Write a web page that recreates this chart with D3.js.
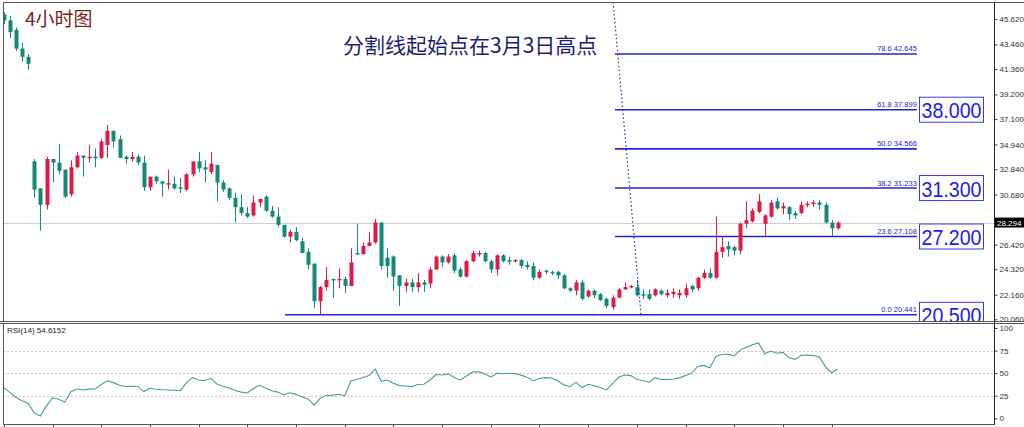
<!DOCTYPE html>
<html>
<head>
<meta charset="utf-8">
<script src="https://cdn.jsdelivr.net/npm/d3@7"></script>
<style>
  body { margin: 0; background: #fff; }
  svg { display: block; }
</style>
</head>
<body>
<div id="chart"></div>
<script>
// 4h candles (oldest first)
var opens = [46.0,45.5,44.7,43.1,42.4, 33.5,31.2,29.8,33.7,33.4, 32.8,30.7,33.0,34.0,33.8, 33.9,33.8,34.9,36.1,35.4,
  33.9,33.7,33.9,33.4,31.3, 32.2,31.8,31.6,31.6,31.3, 31.1,32.4,33.5,33.0,32.6, 33.2,31.7,31.2,30.4,29.6,
  29.1,28.9,30.0,30.5,29.3, 28.8,28.1,27.1,27.5,26.7, 25.8,24.8,21.6,22.8,23.5, 23.4,23.5,22.9,25.7,25.6,
  26.3,26.6,28.3,25.3,25.4, 23.8,22.9,23.2,22.8,23.2, 23.1,24.3,25.4,24.9,25.5, 24.3,23.7,25.0,25.6,25.7,
  25.0,24.3,25.5,25.1,25.0, 25.1,24.7,24.6,23.6,24.2, 24.1,24.1,23.8,22.7,22.5, 23.2,22.0,22.5,22.2,21.8,
  21.1,21.9,22.6,22.8,22.8, 22.2,22.2,22.1,22.5,22.1, 22.2,22.1,22.1,22.9,22.7, 23.6,24.0,23.6,25.8,26.3,
  26.2,25.9,28.2,28.4,29.2, 28.2,28.8,30.1,29.5,29.6, 29.1,29.1,29.8,29.9,30.0, 29.8,28.3,27.8];
var highs = [46.2,45.9,44.9,43.6,42.6, 33.7,31.2,33.9,33.7,35.0, 32.8,33.6,34.3,34.0,34.9, 34.6,35.4,36.6,36.1,35.7,
  34.0,34.3,34.1,34.0,32.2, 32.3,31.8,32.8,32.2,32.1, 32.5,33.5,34.3,33.6,34.3, 33.2,31.9,31.3,30.8,30.7,
  29.6,30.6,30.3,30.6,29.7, 29.6,28.1,27.7,27.9,27.0, 26.1,24.8,22.9,24.5,23.5, 24.4,23.7,26.1,28.2,26.6,
  27.5,28.6,28.3,26.1,25.5, 23.8,23.5,23.5,24.0,23.4, 24.5,25.5,25.5,25.6,25.7, 24.5,25.1,25.9,25.9,25.8,
  25.1,25.6,25.6,25.4,25.2, 25.2,25.0,24.9,24.3,24.3, 24.2,24.2,23.9,22.8,23.4, 23.4,22.6,22.6,22.3,21.9,
  22.1,22.7,23.2,23.0,23.4, 22.6,22.6,22.7,22.6,22.6, 22.7,22.6,23.1,23.0,23.7, 24.3,24.4,28.8,27.1,26.7,
  26.3,28.3,30.1,29.5,30.7, 29.0,30.2,30.4,30.0,29.7, 29.3,30.1,30.1,30.2,30.2, 30.0,28.5,28.4];
var lows = [45.2,44.0,42.9,42.0,41.3, 30.4,27.6,29.4,31.7,32.4, 30.4,30.5,32.9,32.2,33.4, 33.0,33.7,33.8,34.7,33.8,
  33.3,33.5,33.2,31.0,31.0, 31.6,30.5,31.1,31.1,30.8, 31.0,32.2,32.6,31.7,32.4, 30.1,30.9,30.2,28.3,28.9,
  28.7,28.8,29.6,29.2,28.7, 27.9,27.0,26.6,26.7,25.7, 24.3,21.0,20.44,22.5,21.9, 22.7,22.3,22.9,25.6,25.6,
  26.3,26.5,24.3,23.6,22.5, 21.2,22.4,22.4,22.4,22.4, 22.7,24.3,24.5,24.8,24.0, 23.6,23.6,24.9,25.4,24.9,
  24.0,23.8,24.9,24.7,24.9, 24.4,24.3,23.4,23.5,23.9, 23.8,23.5,22.6,22.4,22.1, 21.7,21.9,21.9,21.6,21.0,
  20.9,21.9,22.6,22.7,22.0, 21.8,21.7,22.0,22.1,21.9, 21.9,21.8,21.9,22.4,22.5, 23.5,23.5,23.5,25.3,25.4,
  25.5,25.6,27.8,28.3,29.1, 27.1,28.7,29.4,29.0,28.5, 28.6,29.0,29.6,29.6,29.4, 28.2,27.1,27.7];
var closes = [45.5,44.5,43.1,42.4,41.8, 31.1,29.8,33.7,33.4,32.7, 30.5,33.0,34.0,33.8,33.9, 33.8,35.2,36.1,35.2,33.8,
  33.7,33.9,33.4,31.3,32.2, 31.8,31.6,31.65,31.2,31.2, 32.4,33.5,32.9,32.8,33.3, 31.7,31.1,30.4,29.6,29.1,
  28.8,30.0,30.3,29.3,28.8, 28.1,27.1,27.5,26.8,25.7, 24.7,21.6,22.8,23.4,23.4, 23.5,22.9,24.9,25.6,26.3,
  26.6,28.3,24.6,24.6,23.7, 22.9,23.2,22.8,23.2,23.0, 24.3,25.4,24.9,25.4,24.2, 23.7,25.0,25.7,25.7,25.0,
  24.3,25.5,25.0,25.0,25.1, 24.6,24.5,23.6,24.1,24.1, 24.0,23.8,22.7,22.5,23.2, 21.8,22.5,22.1,21.7,21.2,
  21.9,22.6,22.8,22.9,22.1, 22.1,21.8,22.6,22.2,22.3, 22.4,22.3,22.7,22.6,23.6, 24.0,23.6,25.8,26.2,26.0,
  25.9,28.2,28.5,29.3,30.1, 28.9,30.0,29.5,29.7,29.0, 28.9,29.8,29.9,30.0,29.8, 28.3,27.8,28.294];

// RSI(14), one value per candle
var rsiValues = [34,28.5,23,19.5,16.5, 6,2.5,14,22.7,21, 18,29.5,32.5,31.3,32.3, 32.5,37.5,41.5,39.5,36.5,
  35.2,35.5,35.3,29.6,33.2, 32.2,31.6,31.3,31,30.6, 39.5,45,42.4,41.6,44.3, 38,35.5,33.5,30.8,29,
  28,33,36.5,33.5,30.5, 29,25.8,28.3,26.5,23.5, 21.5,14.5,22.2,25.4,25.7, 26.7,25,41.4,43,45.2,
  47.5,54.6,41,42.4,38.8, 36.2,35.8,35.1,37.5,37.7, 42.4,48.5,48,49.2,45.2, 42.5,46.8,51.3,51.6,49.2,
  45.6,49.8,49.3,49.6,49.5, 47.8,45.3,41.3,44,45, 44.5,41.6,37,35,40, 34,37.7,36.1,34,31.4,
  38.5,45.4,48,47.3,43, 41.8,40,45,43,43.1, 43.5,44.8,47.5,49.8,57.4, 58.6,56,68.5,71,70.9,
  69.2,75.8,78.8,81.5,83.5, 71.5,74.5,72,73,67, 65.3,69.8,70,69.5,67.8, 57,50.5,54.6];

var priceTicks = [45.62, 43.46, 41.36, 39.2, 37.1, 34.94, 32.84, 30.68, 28.52, 26.42, 24.32, 22.16, 20.06];
var rsiTicks = [100, 75, 50, 25, 0];
var rsiLevels = [75, 50, 25];

var fibRatios = ["78.6", "61.8", "50.0", "38.2", "23.6", "0.0"];
var fibPrices = [42.645, 37.899, 34.566, 31.233, 27.108, 20.441];
var fibStart = [100.4, 100.4, 100.4, 100.4, 100.4, 46.2];   // candle index where each level starts
var fibEnd = 150;

var targetLabels = ["38.000", "31.300", "27.200", "20.500"];
var targetPrices = [37.899, 31.233, 27.108, 20.441];

var lastPrice = 28.294;
var rsiLast = "54.6152";
var splitLine = [[100.1, 47.07], [104.7, 20.32]];   // [candle index, price]

var W = 1024, H = 427;
var mainBox = {left: 3, right: 994, top: 2, bottom: 321};
var rsiBox = {top: 323, bottom: 424};

var candles = closes.map(function (c, i) {
  return {i: i, o: opens[i], h: highs[i], l: lows[i], c: c};
});

var x = d3.scaleLinear().domain([0, 137]).range([3.9, 837.7]);
var y = d3.scaleLinear().domain([20.06, 45.62]).range([319.3, 19]);
var yR = d3.scaleLinear().domain([0, 100]).range([418.3, 328]);

var upColor = "#e01a44", downColor = "#138a78";
var fibColor = "#2424d6";

var svg = d3.select("#chart").append("svg")
  .attr("width", W)
  .attr("height", H)
  .style("font-family", "'Liberation Sans', Arial, sans-serif");

svg.append("defs").append("clipPath").attr("id", "clipMain")
  .append("rect")
  .attr("x", mainBox.left).attr("y", mainBox.top)
  .attr("width", mainBox.right - mainBox.left)
  .attr("height", mainBox.bottom - mainBox.top);

var main = svg.append("g").attr("clip-path", "url(#clipMain)");

// last price line
main.append("line")
  .attr("x1", mainBox.left).attr("x2", mainBox.right)
  .attr("y1", Math.round(y(lastPrice)) + 0.5).attr("y2", Math.round(y(lastPrice)) + 0.5)
  .attr("stroke", "#cfcfcf");

// fibonacci levels
var fib = main.selectAll(".fib")
  .data(fibPrices)
  .enter()
  .append("g")
  .attr("class", "fib");

fib.append("line")
  .attr("x1", function (d, i) { return x(fibStart[i]); })
  .attr("x2", x(fibEnd))
  .attr("y1", function (d) { return y(d); })
  .attr("y2", function (d) { return y(d); })
  .attr("stroke", fibColor)
  .attr("stroke-width", 1.6);

fib.append("text")
  .attr("x", x(fibEnd))
  .attr("y", function (d) { return y(d) - 2.5; })
  .attr("text-anchor", "end")
  .attr("font-size", 7.5)
  .attr("fill", fibColor)
  .text(function (d, i) { return fibRatios[i] + "  " + d.toFixed(3); });

// candles
var candle = main.selectAll(".candle")
  .data(candles)
  .enter()
  .append("g")
  .attr("class", "candle")
  .attr("fill", function (d) { return d.c >= d.o ? upColor : downColor; })
  .attr("stroke", function (d) { return d.c >= d.o ? upColor : downColor; });

candle.append("line")
  .attr("x1", function (d) { return Math.round(x(d.i)) + 0.5; })
  .attr("x2", function (d) { return Math.round(x(d.i)) + 0.5; })
  .attr("y1", function (d) { return y(d.h); })
  .attr("y2", function (d) { return y(d.l); })
  .attr("stroke-width", 1);

candle.append("rect")
  .attr("x", function (d) { return Math.round(x(d.i)) - 1.5; })
  .attr("width", 4)
  .attr("y", function (d) { return y(Math.max(d.o, d.c)); })
  .attr("height", function (d) { return Math.max(1.5, Math.abs(y(d.o) - y(d.c))); })
  .attr("stroke", "none");

// dotted split line from the 3 March high
main.append("line")
  .attr("x1", x(splitLine[0][0])).attr("y1", y(splitLine[0][1]))
  .attr("x2", x(splitLine[1][0])).attr("y2", y(splitLine[1][1]))
  .attr("stroke", "#2a2ad0")
  .attr("stroke-width", 1.2)
  .attr("stroke-dasharray", "1.5,2.5");

// target boxes
var target = main.selectAll(".target")
  .data(targetPrices)
  .enter()
  .append("g")
  .attr("class", "target");

target.append("rect")
  .attr("x", 919.5)
  .attr("y", function (d) { return y(d) - 12.5; })
  .attr("width", 64)
  .attr("height", 25)
  .attr("fill", "#fff")
  .attr("stroke", "#3a3af0")
  .attr("stroke-width", 1);

target.append("text")
  .attr("x", 951.5)
  .attr("y", function (d) { return y(d) + 8.5; })
  .attr("text-anchor", "middle")
  .attr("font-size", 22)
  .attr("textLength", 60)
  .attr("lengthAdjust", "spacingAndGlyphs")
  .attr("fill", "#1c1ce8")
  .text(function (d, i) { return targetLabels[i]; });

// titles
svg.append("text")
  .attr("x", 25).attr("y", 26)
  .attr("font-family", "'Noto Sans CJK SC', sans-serif")
  .attr("font-size", 19)
  .attr("fill", "#7b1c1c")
  .text("4小时图");

svg.append("text")
  .attr("x", 343).attr("y", 53)
  .attr("font-family", "'Noto Sans CJK SC', sans-serif")
  .attr("font-size", 21)
  .attr("fill", "#1e1e70")
  .text("分割线起始点在3月3日高点");

// price axis (the 28.520 label sits under the last-price tag, so only its tick shows)
var yAxis = svg.append("g")
  .attr("transform", "translate(" + (mainBox.right + 0.5) + ",0)")
  .call(d3.axisRight(y).tickValues(priceTicks).tickSize(3).tickPadding(2)
    .tickFormat(function (d) { return Math.abs(d - lastPrice) < 0.5 ? "" : d3.format(".3f")(d); }));
yAxis.select(".domain").remove();
yAxis.selectAll("text").attr("font-size", 8).attr("fill", "#333").attr("font-family", "'Liberation Sans', Arial, sans-serif");
yAxis.selectAll("line").attr("stroke", "#444");

// last price tag
svg.append("rect")
  .attr("x", mainBox.right + 1).attr("y", y(lastPrice) - 5)
  .attr("width", 30).attr("height", 10)
  .attr("fill", "#000");
svg.append("text")
  .attr("x", mainBox.right + 3).attr("y", y(lastPrice) + 3)
  .attr("font-size", 8)
  .attr("fill", "#fff")
  .text(lastPrice.toFixed(3));

// RSI panel
var rsi = svg.append("g");

rsi.selectAll(".lvl")
  .data(rsiLevels)
  .enter()
  .append("line")
  .attr("x1", mainBox.left).attr("x2", mainBox.right)
  .attr("y1", function (d) { return Math.round(yR(d)) + 0.5; })
  .attr("y2", function (d) { return Math.round(yR(d)) + 0.5; })
  .attr("stroke", "#d9b9b9")
  .attr("stroke-dasharray", "2,2");

var rsiLine = d3.line()
  .x(function (d, i) { return x(i); })
  .y(function (d) { return yR(d); });

rsi.append("path")
  .datum(rsiValues)
  .attr("d", rsiLine)
  .attr("fill", "none")
  .attr("stroke", "#4a9c9c")
  .attr("stroke-width", 1.1);

rsi.append("text")
  .attr("x", 7).attr("y", 333)
  .attr("font-size", 8)
  .attr("fill", "#222")
  .text("RSI(14) " + rsiLast);

var rAxis = svg.append("g")
  .attr("transform", "translate(" + (mainBox.right + 0.5) + ",0)")
  .call(d3.axisRight(yR).tickValues(rsiTicks).tickSize(3).tickPadding(2));
rAxis.select(".domain").remove();
rAxis.selectAll("text").attr("font-size", 8).attr("fill", "#333").attr("font-family", "'Liberation Sans', Arial, sans-serif");
rAxis.selectAll("line").attr("stroke", "#444");

// time ticks under the RSI panel
svg.selectAll(".tt")
  .data(d3.range(0, 137, 8))
  .enter()
  .append("line")
  .attr("x1", function (d) { return Math.round(x(d)) + 0.5; })
  .attr("x2", function (d) { return Math.round(x(d)) + 0.5; })
  .attr("y1", rsiBox.bottom).attr("y2", H)
  .attr("stroke", "#333");

// frames
var frame = svg.append("g").attr("fill", "none").attr("stroke", "#555");
frame.append("path").attr("d",
  "M" + (mainBox.left + 0.5) + "," + (mainBox.top + 0.5) + "H" + W +
  "M" + (mainBox.left + 0.5) + "," + (mainBox.top + 0.5) + "V" + (mainBox.bottom + 0.5) +
  "M0," + (mainBox.bottom + 0.5) + "H" + W +
  "M0," + (rsiBox.top + 0.5) + "H" + W +
  "M" + (mainBox.left + 0.5) + "," + (rsiBox.top + 0.5) + "V" + (rsiBox.bottom + 0.5) +
  "H" + (mainBox.right + 0.5));
frame.append("path")
  .attr("stroke", "#222")
  .attr("d", "M" + (mainBox.right + 0.5) + "," + mainBox.top + "V" + (rsiBox.bottom + 1));
</script>
</body>
</html>
